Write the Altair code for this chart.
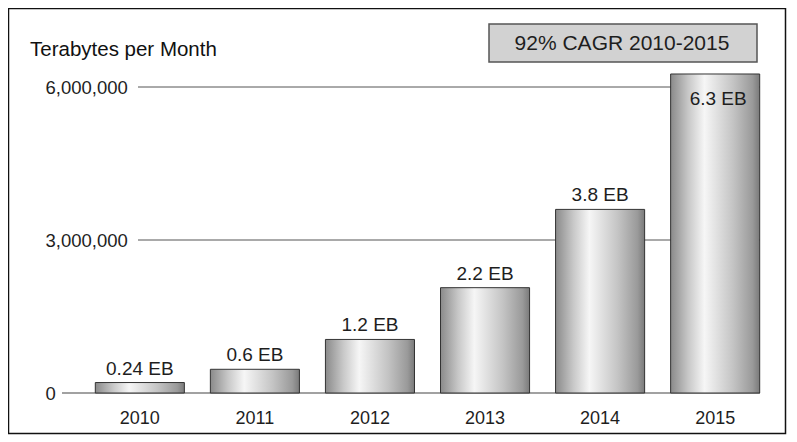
import altair as alt
import pandas as pd

years = ["2010", "2011", "2012", "2013", "2014", "2015"]
traffic_tb = [205000, 465000, 1050000, 2065000, 3600000, 6255000]
bar_labels = ["0.24 EB", "0.6 EB", "1.2 EB", "2.2 EB", "3.8 EB", "6.3 EB"]
y_ticks = [0, 3000000, 6000000]
grid_values = [3000000, 6000000]
zero_value = [0]
title_text = "Terabytes per Month"
cagr_text = "92% CAGR 2010-2015"

df = pd.DataFrame({"year": years, "tb": traffic_tb, "label": bar_labels})
grid_df = pd.DataFrame({"tb": grid_values})
zero_df = pd.DataFrame({"tb": zero_value})
one = pd.DataFrame({"k": [0]})

W, H = 669, 306
FONT = "Liberation Sans"
TXT = "#1e1e1e"

yscale = alt.Scale(domain=[0, 6000000], nice=False)
xscale = alt.Scale(paddingInner=0.226, paddingOuter=0.02)

x_enc = alt.X("year:N", scale=xscale, sort=years,
              axis=alt.Axis(title=None, labelAngle=0, labelFontSize=18, labelPadding=16,
                            ticks=False, tickSize=0, domain=False, labelColor=TXT,
                            labelFont=FONT, labelBaseline="top"))
y_enc = alt.Y("tb:Q", scale=yscale,
              axis=alt.Axis(title=None, values=y_ticks, format=",d", labelAlign="left",
                            labelPadding=48, tickSize=0, ticks=False, domain=False,
                            grid=False, labelFontSize=18.5, labelColor=TXT, labelFont=FONT,
                            labelBaseline="middle"))

border = alt.Chart(one).mark_rect(fill="transparent", stroke="#111", strokeWidth=1.5).encode(
    x=alt.value(-84.5), x2=alt.value(692.5), y=alt.value(-78.5), y2=alt.value(346.5))

zero_line = alt.Chart(zero_df).mark_rule(color="#444", strokeWidth=1.2).encode(
    y=alt.Y("tb:Q", scale=yscale), x=alt.value(-31), x2=alt.value(667))

grid = alt.Chart(grid_df).mark_rule(color="#555", strokeWidth=1).encode(
    y=alt.Y("tb:Q", scale=yscale), x=alt.value(45), x2=alt.value(667))

gradient = alt.Gradient(
    gradient="linear",
    stops=[alt.GradientStop(color="#8a8a8a", offset=0),
           alt.GradientStop(color="#c8c8c8", offset=0.2),
           alt.GradientStop(color="#f6f6f6", offset=0.38),
           alt.GradientStop(color="#c4c4c4", offset=0.7),
           alt.GradientStop(color="#9a9a9a", offset=0.92),
           alt.GradientStop(color="#7a7a7a", offset=1)],
    x1=0, x2=1, y1=0, y2=0)

bars = alt.Chart(df).mark_bar(color=gradient, stroke="#333", strokeWidth=1).encode(
    x=x_enc, y=y_enc)

labels_above = alt.Chart(df).transform_filter(alt.datum.year != "2015").mark_text(
    baseline="alphabetic", dy=-8, fontSize=19, font=FONT, color=TXT).encode(
    x=alt.X("year:N", scale=xscale, sort=years),
    y=alt.Y("tb:Q", scale=yscale), text="label:N")

labels_inside = alt.Chart(df).transform_filter(alt.datum.year == "2015").mark_text(
    baseline="alphabetic", dy=31, dx=3, fontSize=19, font=FONT, color=TXT).encode(
    x=alt.X("year:N", scale=xscale, sort=years),
    y=alt.Y("tb:Q", scale=yscale), text="label:N")

cagr_box = alt.Chart(one).mark_rect(fill="#d2d2d2", stroke="#555", strokeWidth=1.5).encode(
    x=alt.value(396), x2=alt.value(664), y=alt.value(-63), y2=alt.value(-25))

cagr_label = alt.Chart(one).mark_text(
    align="center", baseline="middle", fontSize=21, font=FONT, color=TXT).encode(
    x=alt.value(529), y=alt.value(-43), text=alt.value(cagr_text))

title_label = alt.Chart(one).mark_text(
    align="left", baseline="alphabetic", fontSize=20.5, font=FONT, color="#111").encode(
    x=alt.value(-63), y=alt.value(-31), text=alt.value(title_text))

chart = alt.layer(
    border, zero_line, grid, bars, labels_above, labels_inside,
    cagr_box, cagr_label, title_label
).properties(
    width=W, height=H,
    autosize=alt.AutoSizeParams(type="none"),
    padding={"left": 85, "top": 79, "right": 27, "bottom": 43},
    background="white",
).configure_view(stroke="transparent")

chart.save("out.html", embed_options={"renderer": "svg", "actions": False})
